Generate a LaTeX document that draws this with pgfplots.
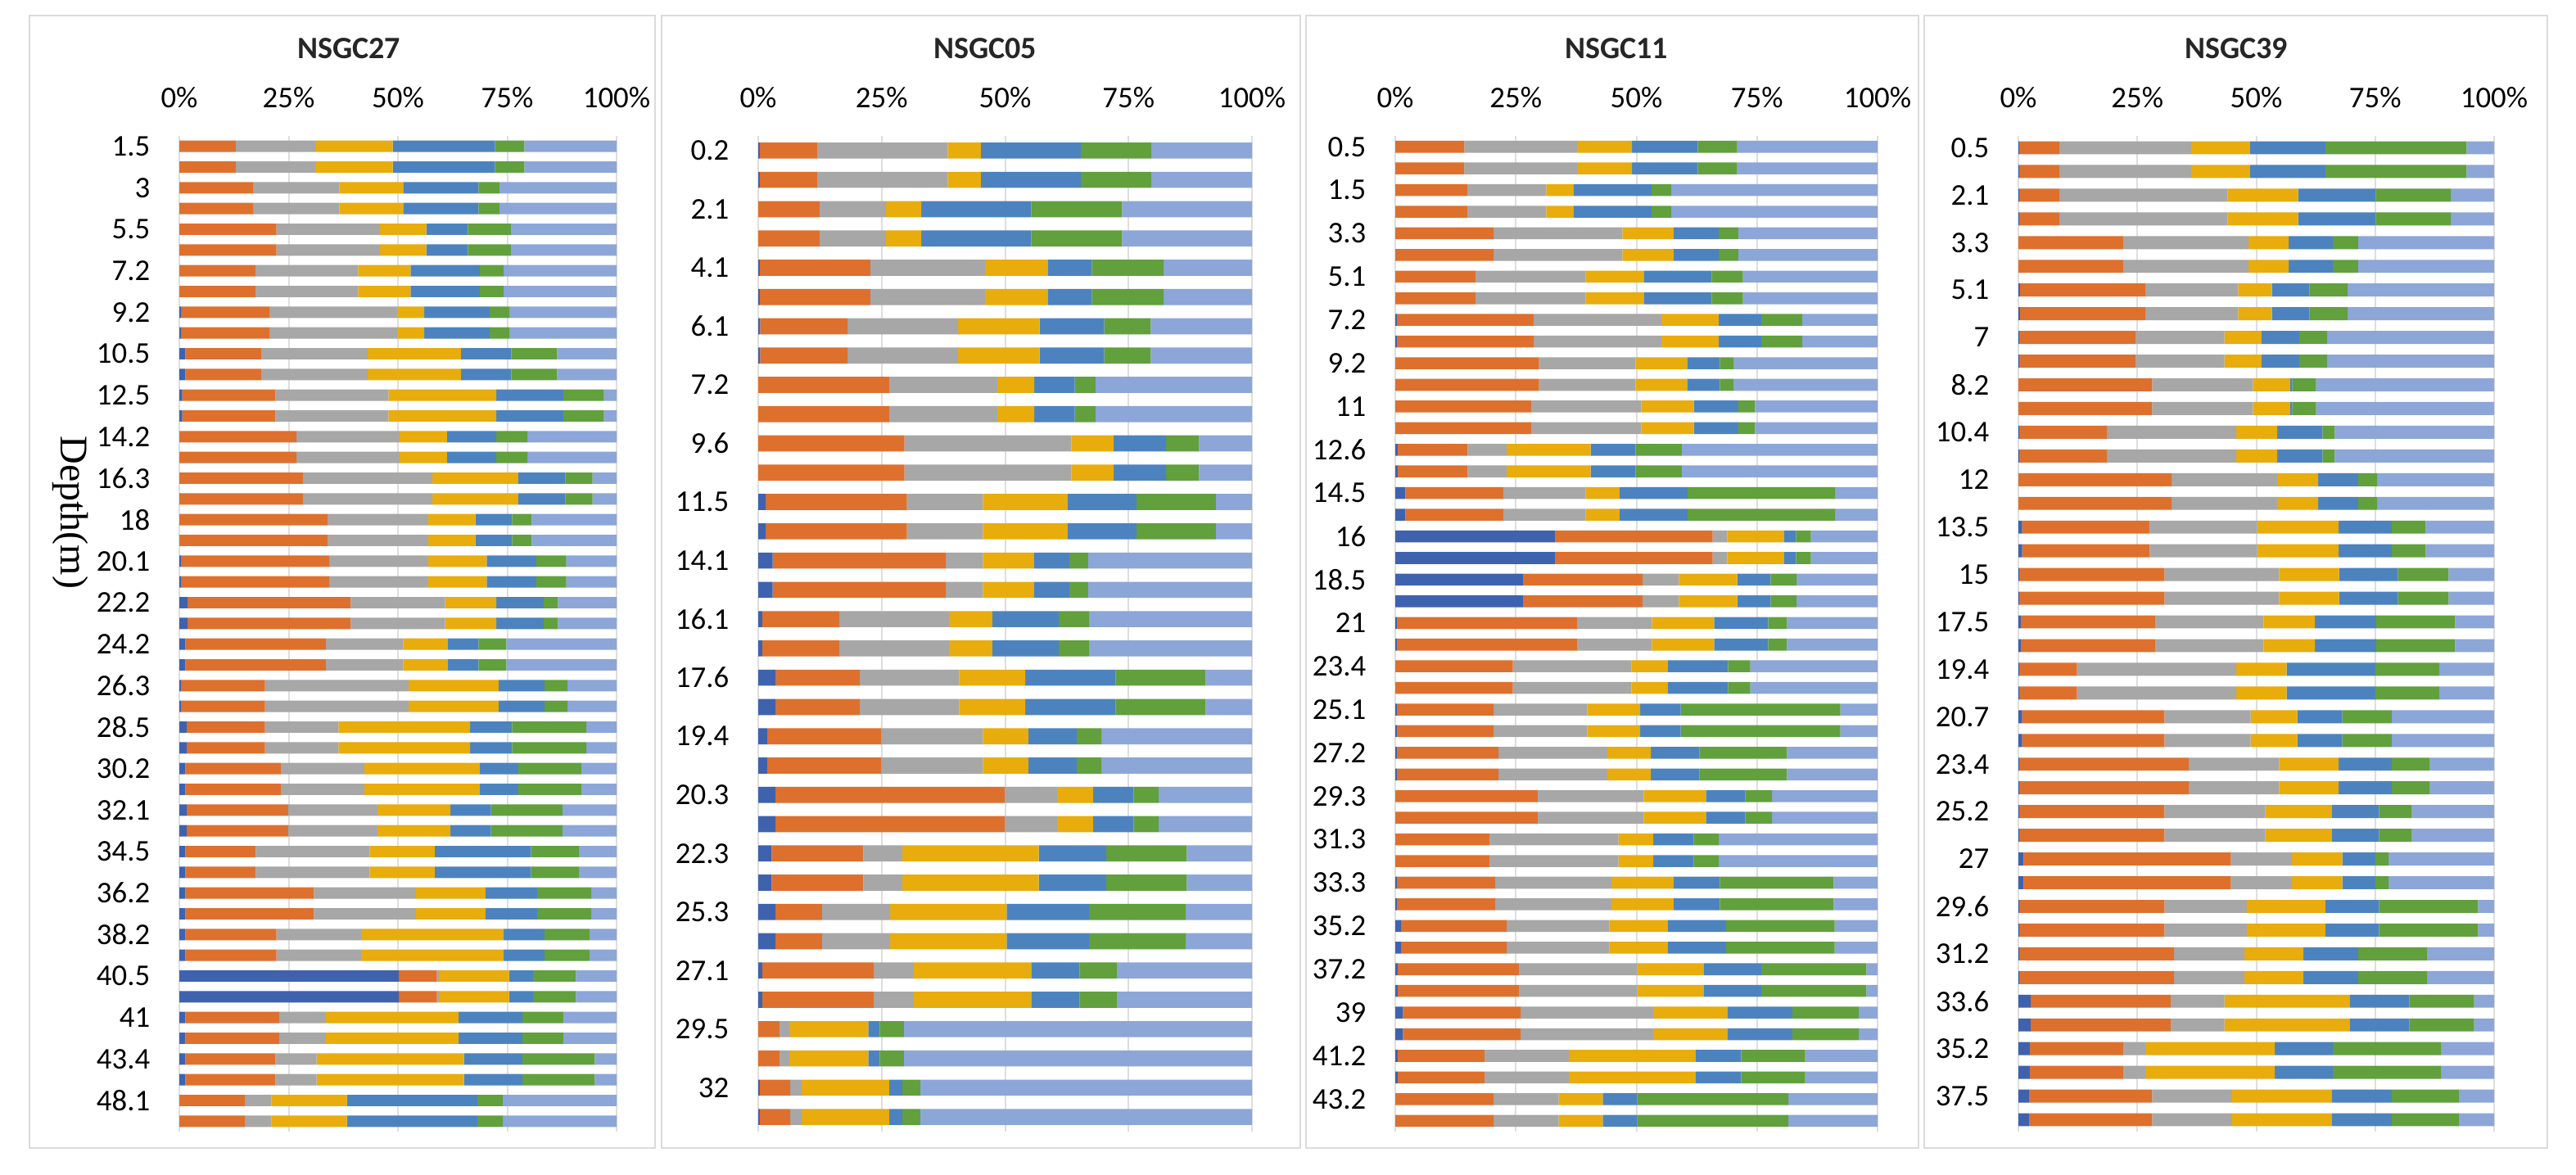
\documentclass[border=0pt]{standalone}
\usepackage{pgfplots}
\usepackage{pgfplotstable}
\usepackage{fontspec}
\pgfplotsset{compat=1.18}
\setmainfont{Carlito}
\newfontfamily\seriffont{Liberation Serif}

\definecolor{c1}{HTML}{3F62AE}
\definecolor{c2}{HTML}{DE702D}
\definecolor{c3}{HTML}{A7A7A7}
\definecolor{c4}{HTML}{E8AC0C}
\definecolor{c5}{HTML}{4C83BF}
\definecolor{c6}{HTML}{61A03D}
\definecolor{c7}{HTML}{8DA6D8}

% each sample row is listed twice, as in the source chart
\pgfplotstableread{
a b c d e f g
0 12.9 18.2 17.7 23.4 6.7 21.1
0 12.9 18.2 17.7 23.4 6.7 21.1
0 16.9 19.7 14.6 17.2 4.8 26.8
0 16.9 19.7 14.6 17.2 4.8 26.8
0 22.2 23.7 10.6 9.5 9.8 24.2
0 22.2 23.7 10.6 9.5 9.8 24.2
0 17.4 23.5 12.0 15.8 5.5 25.8
0 17.4 23.5 12.0 15.8 5.5 25.8
0.4 20.2 29.2 6.2 15.0 4.6 24.4
0.4 20.2 29.2 6.2 15.0 4.6 24.4
1.4 17.3 24.4 21.3 11.5 10.5 13.6
1.4 17.3 24.4 21.3 11.5 10.5 13.6
0.7 21.3 25.8 24.7 15.3 9.3 2.9
0.7 21.3 25.8 24.7 15.3 9.3 2.9
0 26.8 23.6 10.8 11.3 7.1 20.4
0 26.8 23.6 10.8 11.3 7.1 20.4
0 28.4 29.5 19.6 10.8 6.2 5.5
0 28.4 29.5 19.6 10.8 6.2 5.5
0 34.0 22.9 10.8 8.4 4.5 19.4
0 34.0 22.9 10.8 8.4 4.5 19.4
0.5 33.8 22.6 13.4 11.3 6.9 11.5
0.5 33.8 22.6 13.4 11.3 6.9 11.5
1.9 37.3 21.6 11.7 10.8 3.3 13.4
1.9 37.3 21.6 11.7 10.8 3.3 13.4
1.4 32.1 17.7 10.2 7.0 6.4 25.2
1.4 32.1 17.7 10.2 7.0 6.4 25.2
0.5 19.1 32.8 20.6 10.5 5.3 11.2
0.5 19.1 32.8 20.6 10.5 5.3 11.2
1.7 17.9 16.8 30.1 9.6 17.0 6.9
1.7 17.9 16.8 30.1 9.6 17.0 6.9
1.4 21.8 19.1 26.4 8.8 14.4 8.1
1.4 21.8 19.1 26.4 8.8 14.4 8.1
1.7 23.2 20.4 16.7 9.3 16.3 12.4
1.7 23.2 20.4 16.7 9.3 16.3 12.4
1.4 16.1 26.0 14.9 22.0 11.0 8.6
1.4 16.1 26.0 14.9 22.0 11.0 8.6
1.4 29.4 23.3 15.9 11.8 12.5 5.7
1.4 29.4 23.3 15.9 11.8 12.5 5.7
1.4 20.8 19.4 32.6 9.3 10.3 6.2
1.4 20.8 19.4 32.6 9.3 10.3 6.2
50.2 8.7 0.5 16.0 5.5 9.8 9.3
50.2 8.7 0.5 16.0 5.5 9.8 9.3
1.4 21.4 10.7 30.4 14.6 9.3 12.2
1.4 21.4 10.7 30.4 14.6 9.3 12.2
1.4 20.6 9.4 33.7 13.4 16.5 5.0
1.4 20.6 9.4 33.7 13.4 16.5 5.0
0 15.0 6.1 17.2 29.9 5.8 26.0
0 15.0 6.1 17.2 29.9 5.8 26.0
}\tA

\pgfplotstableread{
a b c d e f g
0.3 11.6 26.5 6.7 20.2 14.4 20.3
0.3 11.6 26.5 6.7 20.2 14.4 20.3
0 12.4 13.5 7.1 22.3 18.4 26.3
0 12.4 13.5 7.1 22.3 18.4 26.3
0.3 22.4 23.2 12.7 9.0 14.5 17.9
0.3 22.4 23.2 12.7 9.0 14.5 17.9
0.4 17.7 22.4 16.5 13.1 9.4 20.5
0.4 17.7 22.4 16.5 13.1 9.4 20.5
0 26.5 21.9 7.5 8.2 4.2 31.7
0 26.5 21.9 7.5 8.2 4.2 31.7
0 29.6 33.8 8.6 10.6 6.7 10.7
0 29.6 33.8 8.6 10.6 6.7 10.7
1.5 28.6 15.4 17.1 14.0 16.1 7.3
1.5 28.6 15.4 17.1 14.0 16.1 7.3
2.9 35.1 7.5 10.3 7.2 3.8 33.2
2.9 35.1 7.5 10.3 7.2 3.8 33.2
0.8 15.6 22.2 8.8 13.5 6.1 33.0
0.8 15.6 22.2 8.8 13.5 6.1 33.0
3.6 17.0 20.1 13.4 18.3 18.2 9.4
3.6 17.0 20.1 13.4 18.3 18.2 9.4
1.8 23.1 20.6 9.2 9.8 5.0 30.5
1.8 23.1 20.6 9.2 9.8 5.0 30.5
3.5 46.4 10.6 7.3 8.2 5.1 18.9
3.5 46.4 10.6 7.3 8.2 5.1 18.9
2.7 18.6 7.9 27.6 13.7 16.3 13.2
2.7 18.6 7.9 27.6 13.7 16.3 13.2
3.5 9.4 13.8 23.6 16.7 19.6 13.4
3.5 9.4 13.8 23.6 16.7 19.6 13.4
0.8 22.6 8.1 23.8 9.8 7.5 27.4
0.8 22.6 8.1 23.8 9.8 7.5 27.4
0 4.3 2.0 16.0 2.3 4.9 70.5
0 4.3 2.0 16.0 2.3 4.9 70.5
0.3 6.2 2.3 17.7 2.7 3.6 67.2
0.3 6.2 2.3 17.7 2.7 3.6 67.2
}\tB

\pgfplotstableread{
a b c d e f g
0 14.3 23.4 11.4 13.6 8.2 29.1
0 14.3 23.4 11.4 13.6 8.2 29.1
0 14.9 16.4 5.6 16.2 4.2 42.7
0 14.9 16.4 5.6 16.2 4.2 42.7
0 20.4 26.7 10.6 9.4 4.0 28.9
0 20.4 26.7 10.6 9.4 4.0 28.9
0 16.6 22.9 12.0 14.1 6.5 27.9
0 16.6 22.9 12.0 14.1 6.5 27.9
0.3 28.4 26.5 11.9 8.8 8.5 15.6
0.3 28.4 26.5 11.9 8.8 8.5 15.6
0 29.8 20.0 10.7 6.8 2.9 29.8
0 29.8 20.0 10.7 6.8 2.9 29.8
0 28.3 22.7 10.9 9.2 3.5 25.4
0 28.3 22.7 10.9 9.2 3.5 25.4
0.5 14.5 8.1 17.4 9.3 9.6 40.6
0.5 14.5 8.1 17.4 9.3 9.6 40.6
2.1 20.3 17.1 7.0 14.1 30.6 8.8
2.1 20.3 17.1 7.0 14.1 30.6 8.8
33.1 32.7 3.0 11.8 2.5 3.1 13.8
33.1 32.7 3.0 11.8 2.5 3.1 13.8
26.6 24.7 7.5 12.1 6.9 5.4 16.8
26.6 24.7 7.5 12.1 6.9 5.4 16.8
0.3 37.5 15.4 12.9 11.2 3.9 18.8
0.3 37.5 15.4 12.9 11.2 3.9 18.8
0 24.4 24.6 7.5 12.5 4.6 26.4
0 24.4 24.6 7.5 12.5 4.6 26.4
0.3 20.1 19.4 11.0 8.4 33.1 7.7
0.3 20.1 19.4 11.0 8.4 33.1 7.7
0.3 21.1 22.6 9.0 10.1 18.1 18.8
0.3 21.1 22.6 9.0 10.1 18.1 18.8
0 29.5 22.0 12.9 8.2 5.5 21.9
0 29.5 22.0 12.9 8.2 5.5 21.9
0 19.5 26.8 7.2 8.4 5.2 32.9
0 19.5 26.8 7.2 8.4 5.2 32.9
0.3 20.5 24.0 12.9 9.6 23.6 9.1
0.3 20.5 24.0 12.9 9.6 23.6 9.1
1.2 21.9 21.3 12.1 12.1 22.5 8.9
1.2 21.9 21.3 12.1 12.1 22.5 8.9
0.5 25.1 24.6 13.8 11.9 21.8 2.3
0.5 25.1 24.6 13.8 11.9 21.8 2.3
1.6 24.4 27.5 15.3 13.5 13.8 3.9
1.6 24.4 27.5 15.3 13.5 13.8 3.9
0.5 18.0 17.5 26.3 9.4 13.3 15.0
0.5 18.0 17.5 26.3 9.4 13.3 15.0
0 20.4 13.5 9.1 7.2 31.3 18.5
0 20.4 13.5 9.1 7.2 31.3 18.5
}\tC

\pgfplotstableread{
a b c d e f g
0.2 8.4 27.7 12.4 15.8 29.7 5.8
0.2 8.4 27.7 12.4 15.8 29.7 5.8
0.2 8.4 35.4 14.8 16.3 15.8 9.1
0.2 8.4 35.4 14.8 16.3 15.8 9.1
0 22.0 26.4 8.4 9.3 5.3 28.6
0 22.0 26.4 8.4 9.3 5.3 28.6
0.3 26.4 19.5 7.1 7.9 8.0 30.8
0.3 26.4 19.5 7.1 7.9 8.0 30.8
0.2 24.5 18.6 7.8 7.9 6.0 35.0
0.2 24.5 18.6 7.8 7.9 6.0 35.0
0 28.1 21.2 7.8 0.5 5.0 37.4
0 28.1 21.2 7.8 0.5 5.0 37.4
0.2 18.4 27.2 8.6 9.5 2.6 33.5
0.2 18.4 27.2 8.6 9.5 2.6 33.5
0 32.2 22.2 8.6 8.4 4.0 24.6
0 32.2 22.2 8.6 8.4 4.0 24.6
0.8 26.8 22.6 17.1 11.2 7.1 14.4
0.8 26.8 22.6 17.1 11.2 7.1 14.4
0.2 30.5 24.1 12.6 12.4 10.6 9.6
0.2 30.5 24.1 12.6 12.4 10.6 9.6
0.5 28.2 22.8 10.8 12.9 16.6 8.2
0.5 28.2 22.8 10.8 12.9 16.6 8.2
0.2 12.1 33.5 10.6 18.6 13.5 11.5
0.2 12.1 33.5 10.6 18.6 13.5 11.5
0.8 29.9 18.1 9.8 9.5 10.4 21.5
0.8 29.9 18.1 9.8 9.5 10.4 21.5
0.2 35.6 19.0 12.5 11.2 8.0 13.5
0.2 35.6 19.0 12.5 11.2 8.0 13.5
0.2 30.5 21.2 14.0 9.9 6.9 17.3
0.2 30.5 21.2 14.0 9.9 6.9 17.3
1.1 43.6 12.8 10.6 6.9 2.8 22.2
1.1 43.6 12.8 10.6 6.9 2.8 22.2
0.2 30.5 17.3 16.5 11.3 20.8 3.4
0.2 30.5 17.3 16.5 11.3 20.8 3.4
0.2 32.5 14.8 12.4 11.5 14.6 14.0
0.2 32.5 14.8 12.4 11.5 14.6 14.0
2.6 29.4 11.3 26.3 12.6 13.6 4.2
2.6 29.4 11.3 26.3 12.6 13.6 4.2
2.4 19.6 4.7 27.2 12.2 22.8 11.1
2.4 19.6 4.7 27.2 12.2 22.8 11.1
2.2 25.9 16.8 21.0 12.6 14.2 7.3
2.2 25.9 16.8 21.0 12.6 14.2 7.3
}\tD

\pgfplotsset{
  panel/.style={
    xbar stacked, scale only axis, height=304pt,
    anchor=south west, y dir=reverse,
    xmin=0, xmax=100, ymin=0.5,
    xtick={0,25,50,75,100},
    xticklabels={0\%,25\%,50\%,75\%,100\%},
    xticklabel pos=right,
    axis line style={draw=none},
    major tick length=0pt,
    xmajorgrids, major grid style={draw=black!13, line width=0.5pt},
    bar width=0.55,
    tick label style={font=\fontsize{9.2}{10}\selectfont, inner sep=0pt},
    xticklabel style={anchor=center, yshift=11.75pt},
    yticklabel style={anchor=east, xshift=-8.75pt},
  },
}
\newcommand\sevenbars[1]{%
  \addplot[fill=c1, draw=none] table[x=a, y expr=\coordindex+1] {#1};
  \addplot[fill=c2, draw=none] table[x=b, y expr=\coordindex+1] {#1};
  \addplot[fill=c3, draw=none] table[x=c, y expr=\coordindex+1] {#1};
  \addplot[fill=c4, draw=none] table[x=d, y expr=\coordindex+1] {#1};
  \addplot[fill=c5, draw=none] table[x=e, y expr=\coordindex+1] {#1};
  \addplot[fill=c6, draw=none] table[x=f, y expr=\coordindex+1] {#1};
  \addplot[fill=c7, draw=none] table[x=g, y expr=\coordindex+1] {#1};
}

\begin{document}
\begin{tikzpicture}
\fill[white] (0,0) rectangle (786.5pt,358.5pt);
% panel frames
\draw[black!14, line width=0.5pt] (9pt,8pt) rectangle (200pt,353.75pt);
\draw[black!14, line width=0.5pt] (202pt,8pt) rectangle (397pt,353.75pt);
\draw[black!14, line width=0.5pt] (398.75pt,8pt) rectangle (585.75pt,353.75pt);
\draw[black!14, line width=0.5pt] (587.5pt,8pt) rectangle (777.75pt,353.75pt);

\begin{axis}[panel, at={(54.75pt,13pt)}, width=133.5pt, ymax=48.5,
  ytick={1,3,...,47},
  yticklabels={1.5,3,5.5,7.2,9.2,10.5,12.5,14.2,16.3,18,20.1,22.2,24.2,26.3,28.5,30.2,32.1,34.5,36.2,38.2,40.5,41,43.4,48.1}]
\sevenbars{\tA}
\end{axis}

\begin{axis}[panel, at={(231.5pt,13pt)}, width=150.75pt, ymax=34.5,
  ytick={1,3,...,33},
  yticklabels={0.2,2.1,4.1,6.1,7.2,9.6,11.5,14.1,16.1,17.6,19.4,20.3,22.3,25.3,27.1,29.5,32}]
\sevenbars{\tB}
\end{axis}

\begin{axis}[panel, at={(426pt,13pt)}, width=147.25pt, ymax=46.5,
  ytick={1,3,...,45},
  yticklabels={0.5,1.5,3.3,5.1,7.2,9.2,11,12.6,14.5,16,18.5,21,23.4,25.1,27.2,29.3,31.3,33.3,35.2,37.2,39,41.2,43.2}]
\sevenbars{\tC}
\end{axis}

\begin{axis}[panel, at={(616.25pt,13pt)}, width=145.25pt, ymax=42.5,
  ytick={1,3,...,41},
  yticklabels={0.5,2.1,3.3,5.1,7,8.2,10.4,12,13.5,15,17.5,19.4,20.7,23.4,25.2,27,29.6,31.2,33.6,35.2,37.5}]
\sevenbars{\tD}
\end{axis}

% titles
\begin{scope}[every node/.style={font=\bfseries\fontsize{9.5}{11}\selectfont, text=black!85}]
\node at (106.5pt,343.75pt) {NSGC27};
\node at (300.75pt,343.75pt) {NSGC05};
\node at (493.5pt,343.75pt) {NSGC11};
\node at (682.75pt,343.75pt) {NSGC39};
\end{scope}
\node[rotate=-90, font=\seriffont\fontsize{12}{14}\selectfont] at (21.5pt,202pt) {Depth(m)};
\end{tikzpicture}
\end{document}
